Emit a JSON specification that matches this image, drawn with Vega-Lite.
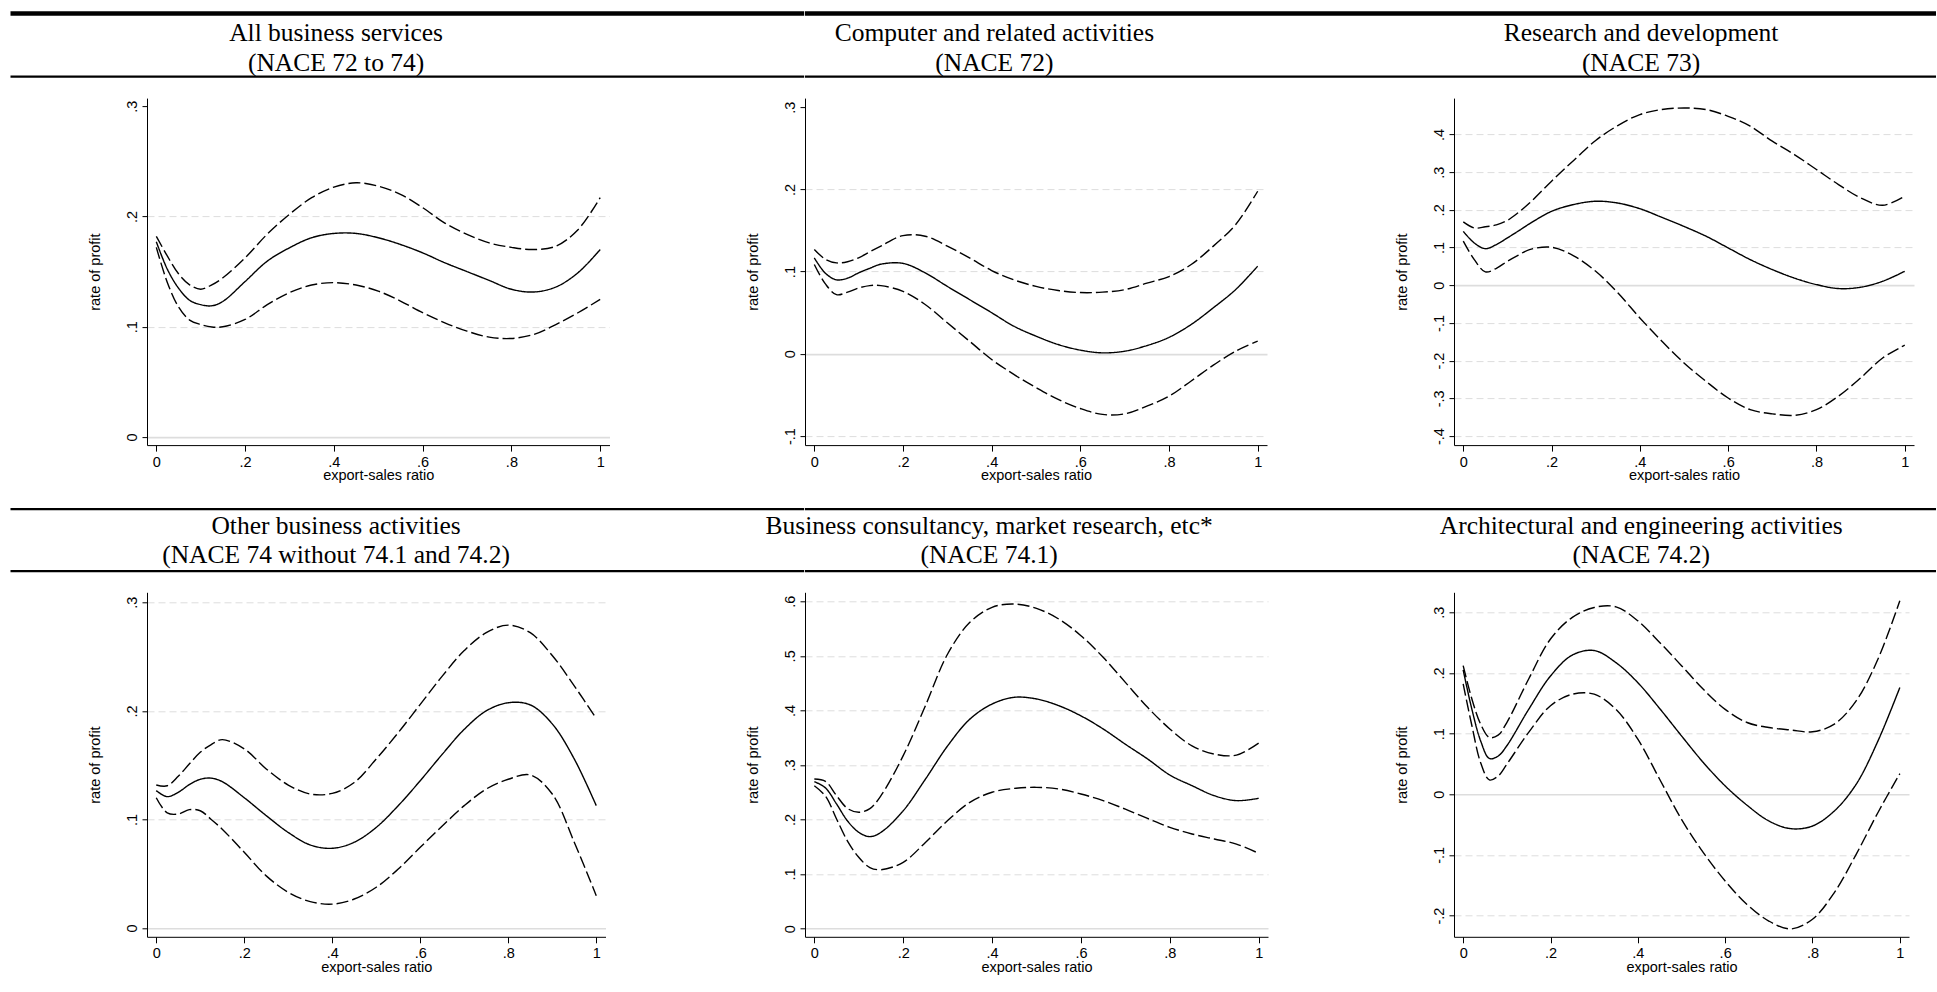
{
  "$schema": "https://vega.github.io/schema/vega-lite/v6.json",
  "background": "white",
  "padding": {"left": 8, "top": 10.5, "right": 0, "bottom": 0},
  "config": {
    "view": {"stroke": null},
    "axis": {"domainColor": "black", "domainWidth": 1, "tickColor": "black", "tickWidth": 1, "tickSize": 5, "labelFont": "Liberation Sans", "labelFontSize": 14.5, "labelColor": "black", "titleFont": "Liberation Sans", "titleFontSize": 14.5, "titleFontWeight": "normal", "titleColor": "black", "grid": false, "labelFlush": false, "labelOverlap": false},
    "axisX": {"tickSize": 6, "labelPadding": 4, "titlePadding": 0},
    "axisY": {"labelAngle": -90, "labelAlign": "center", "labelBaseline": "bottom", "labelPadding": 3, "titlePadding": 22, "grid": true, "gridColor": "#dddddd"}
  },
  "datasets": {
    "titles": [
      {"p": 1, "t": "All business services\n(NACE 72 to 74)"},
      {"p": 2, "t": "Computer and related activities\n(NACE 72)"},
      {"p": 3, "t": "Research and development\n(NACE 73)"},
      {"p": 4, "t": "Other business activities\n(NACE 74 without 74.1 and 74.2)"},
      {"p": 5, "t": "Business consultancy, market research, etc*\n(NACE 74.1)"},
      {"p": 6, "t": "Architectural and engineering activities\n(NACE 74.2)"}
    ],
    "curves": [
      {"p":1,"x":0,"fit":0.177,"lo":0.172,"hi":0.182},
      {"p":1,"x":0.025,"fit":0.152,"lo":0.140,"hi":0.164},
      {"p":1,"x":0.05,"fit":0.135,"lo":0.118,"hi":0.148},
      {"p":1,"x":0.075,"fit":0.124,"lo":0.106,"hi":0.138},
      {"p":1,"x":0.1,"fit":0.120,"lo":0.102,"hi":0.134},
      {"p":1,"x":0.125,"fit":0.119,"lo":0.0998,"hi":0.138},
      {"p":1,"x":0.15,"fit":0.123,"lo":0.100,"hi":0.1444},
      {"p":1,"x":0.2,"fit":0.141,"lo":0.1066,"hi":0.1625},
      {"p":1,"x":0.25,"fit":0.1595,"lo":0.120,"hi":0.184},
      {"p":1,"x":0.3,"fit":0.1716,"lo":0.131,"hi":0.202},
      {"p":1,"x":0.35,"fit":0.1807,"lo":0.1378,"hi":0.217},
      {"p":1,"x":0.4,"fit":0.1846,"lo":0.140,"hi":0.2266},
      {"p":1,"x":0.45,"fit":0.1846,"lo":0.1378,"hi":0.2305},
      {"p":1,"x":0.5,"fit":0.1807,"lo":0.1323,"hi":0.2275},
      {"p":1,"x":0.55,"fit":0.1746,"lo":0.1233,"hi":0.220},
      {"p":1,"x":0.6,"fit":0.167,"lo":0.1127,"hi":0.208},
      {"p":1,"x":0.65,"fit":0.158,"lo":0.1036,"hi":0.194},
      {"p":1,"x":0.7,"fit":0.150,"lo":0.096,"hi":0.1837},
      {"p":1,"x":0.75,"fit":0.142,"lo":0.0906,"hi":0.176},
      {"p":1,"x":0.8,"fit":0.134,"lo":0.0894,"hi":0.172},
      {"p":1,"x":0.85,"fit":0.1315,"lo":0.093,"hi":0.170},
      {"p":1,"x":0.9,"fit":0.136,"lo":0.102,"hi":0.173},
      {"p":1,"x":0.95,"fit":0.149,"lo":0.1127,"hi":0.188},
      {"p":1,"x":1,"fit":0.170,"lo":0.1248,"hi":0.217},

      {"p":2,"x":0,"fit":0.1167,"lo":0.1086,"hi":0.127},
      {"p":2,"x":0.025,"fit":0.098,"lo":0.085,"hi":0.115},
      {"p":2,"x":0.05,"fit":0.090,"lo":0.072,"hi":0.1106},
      {"p":2,"x":0.075,"fit":0.092,"lo":0.075,"hi":0.112},
      {"p":2,"x":0.1,"fit":0.0985,"lo":0.080,"hi":0.1167},
      {"p":2,"x":0.125,"fit":0.104,"lo":0.083,"hi":0.124},
      {"p":2,"x":0.15,"fit":0.109,"lo":0.083,"hi":0.131},
      {"p":2,"x":0.2,"fit":0.110,"lo":0.076,"hi":0.1438},
      {"p":2,"x":0.25,"fit":0.0985,"lo":0.060,"hi":0.143},
      {"p":2,"x":0.3,"fit":0.082,"lo":0.0377,"hi":0.131},
      {"p":2,"x":0.35,"fit":0.066,"lo":0.0154,"hi":0.1167},
      {"p":2,"x":0.4,"fit":0.050,"lo":-0.0069,"hi":0.1013},
      {"p":2,"x":0.45,"fit":0.0336,"lo":-0.025,"hi":0.090},
      {"p":2,"x":0.5,"fit":0.0215,"lo":-0.041,"hi":0.082},
      {"p":2,"x":0.55,"fit":0.0113,"lo":-0.0555,"hi":0.077},
      {"p":2,"x":0.6,"fit":0.0045,"lo":-0.0665,"hi":0.0745},
      {"p":2,"x":0.65,"fit":0.0012,"lo":-0.0737,"hi":0.075},
      {"p":2,"x":0.7,"fit":0.0032,"lo":-0.073,"hi":0.078},
      {"p":2,"x":0.75,"fit":0.010,"lo":-0.0636,"hi":0.086},
      {"p":2,"x":0.8,"fit":0.020,"lo":-0.0515,"hi":0.094},
      {"p":2,"x":0.85,"fit":0.0357,"lo":-0.033,"hi":0.1086},
      {"p":2,"x":0.9,"fit":0.056,"lo":-0.0138,"hi":0.131},
      {"p":2,"x":0.95,"fit":0.078,"lo":0.0032,"hi":0.157},
      {"p":2,"x":1,"fit":0.1066,"lo":0.0154,"hi":0.1977},

      {"p":3,"x":0,"fit":0.143,"lo":0.117,"hi":0.168},
      {"p":3,"x":0.025,"fit":0.112,"lo":0.068,"hi":0.152},
      {"p":3,"x":0.05,"fit":0.097,"lo":0.0354,"hi":0.155},
      {"p":3,"x":0.075,"fit":0.108,"lo":0.045,"hi":0.160},
      {"p":3,"x":0.1,"fit":0.1256,"lo":0.0637,"hi":0.172},
      {"p":3,"x":0.125,"fit":0.144,"lo":0.080,"hi":0.193},
      {"p":3,"x":0.15,"fit":0.163,"lo":0.0946,"hi":0.218},
      {"p":3,"x":0.2,"fit":0.196,"lo":0.1008,"hi":0.276},
      {"p":3,"x":0.25,"fit":0.214,"lo":0.078,"hi":0.331},
      {"p":3,"x":0.3,"fit":0.2228,"lo":0.037,"hi":0.384},
      {"p":3,"x":0.35,"fit":0.218,"lo":-0.020,"hi":0.4235},
      {"p":3,"x":0.4,"fit":0.203,"lo":-0.0866,"hi":0.4527},
      {"p":3,"x":0.45,"fit":0.180,"lo":-0.1485,"hi":0.466},
      {"p":3,"x":0.5,"fit":0.156,"lo":-0.206,"hi":0.470},
      {"p":3,"x":0.55,"fit":0.130,"lo":-0.255,"hi":0.466},
      {"p":3,"x":0.6,"fit":0.099,"lo":-0.299,"hi":0.448},
      {"p":3,"x":0.65,"fit":0.068,"lo":-0.330,"hi":0.4218},
      {"p":3,"x":0.7,"fit":0.0416,"lo":-0.341,"hi":0.382},
      {"p":3,"x":0.75,"fit":0.019,"lo":-0.345,"hi":0.3466},
      {"p":3,"x":0.8,"fit":0.0018,"lo":-0.330,"hi":0.307},
      {"p":3,"x":0.85,"fit":-0.0088,"lo":-0.294,"hi":0.267},
      {"p":3,"x":0.9,"fit":-0.0053,"lo":-0.246,"hi":0.2317},
      {"p":3,"x":0.95,"fit":0.0106,"lo":-0.193,"hi":0.212},
      {"p":3,"x":1,"fit":0.037,"lo":-0.159,"hi":0.236},

      {"p":4,"x":0,"fit":0.1265,"lo":0.120,"hi":0.1317},
      {"p":4,"x":0.025,"fit":0.121,"lo":0.106,"hi":0.131},
      {"p":4,"x":0.05,"fit":0.125,"lo":0.105,"hi":0.1397},
      {"p":4,"x":0.075,"fit":0.132,"lo":0.109,"hi":0.151},
      {"p":4,"x":0.1,"fit":0.137,"lo":0.108,"hi":0.1618},
      {"p":4,"x":0.125,"fit":0.138,"lo":0.100,"hi":0.169},
      {"p":4,"x":0.15,"fit":0.1348,"lo":0.091,"hi":0.1735},
      {"p":4,"x":0.2,"fit":0.120,"lo":0.0697,"hi":0.165},
      {"p":4,"x":0.25,"fit":0.1035,"lo":0.048,"hi":0.1465},
      {"p":4,"x":0.3,"fit":0.088,"lo":0.0329,"hi":0.1317},
      {"p":4,"x":0.35,"fit":0.0765,"lo":0.0243,"hi":0.1234},
      {"p":4,"x":0.4,"fit":0.0734,"lo":0.022,"hi":0.124},
      {"p":4,"x":0.45,"fit":0.079,"lo":0.0267,"hi":0.134},
      {"p":4,"x":0.5,"fit":0.0927,"lo":0.0375,"hi":0.1557},
      {"p":4,"x":0.55,"fit":0.1127,"lo":0.0543,"hi":0.180},
      {"p":4,"x":0.6,"fit":0.1357,"lo":0.0743,"hi":0.206},
      {"p":4,"x":0.65,"fit":0.160,"lo":0.094,"hi":0.232},
      {"p":4,"x":0.7,"fit":0.183,"lo":0.1127,"hi":0.2555},
      {"p":4,"x":0.75,"fit":0.200,"lo":0.128,"hi":0.272},
      {"p":4,"x":0.8,"fit":0.2075,"lo":0.137,"hi":0.279},
      {"p":4,"x":0.85,"fit":0.2055,"lo":0.141,"hi":0.272},
      {"p":4,"x":0.9,"fit":0.188,"lo":0.1234,"hi":0.251},
      {"p":4,"x":0.95,"fit":0.1557,"lo":0.079,"hi":0.223},
      {"p":4,"x":1,"fit":0.1127,"lo":0.0298,"hi":0.193},

      {"p":5,"x":0,"fit":0.2694,"lo":0.262,"hi":0.2743},
      {"p":5,"x":0.025,"fit":0.258,"lo":0.243,"hi":0.270},
      {"p":5,"x":0.05,"fit":0.2285,"lo":0.201,"hi":0.2437},
      {"p":5,"x":0.075,"fit":0.197,"lo":0.160,"hi":0.220},
      {"p":5,"x":0.1,"fit":0.1765,"lo":0.1307,"hi":0.2132},
      {"p":5,"x":0.125,"fit":0.1686,"lo":0.112,"hi":0.220},
      {"p":5,"x":0.15,"fit":0.1765,"lo":0.108,"hi":0.2437},
      {"p":5,"x":0.2,"fit":0.216,"lo":0.1216,"hi":0.317},
      {"p":5,"x":0.25,"fit":0.274,"lo":0.158,"hi":0.4087},
      {"p":5,"x":0.3,"fit":0.335,"lo":0.198,"hi":0.5034},
      {"p":5,"x":0.35,"fit":0.384,"lo":0.2315,"hi":0.5614},
      {"p":5,"x":0.4,"fit":0.4117,"lo":0.250,"hi":0.589},
      {"p":5,"x":0.45,"fit":0.424,"lo":0.257,"hi":0.595},
      {"p":5,"x":0.5,"fit":0.421,"lo":0.259,"hi":0.587},
      {"p":5,"x":0.55,"fit":0.4087,"lo":0.256,"hi":0.5675},
      {"p":5,"x":0.6,"fit":0.390,"lo":0.2468,"hi":0.537},
      {"p":5,"x":0.65,"fit":0.366,"lo":0.2346,"hi":0.4973},
      {"p":5,"x":0.7,"fit":0.338,"lo":0.219,"hi":0.4514},
      {"p":5,"x":0.75,"fit":0.311,"lo":0.202,"hi":0.4056},
      {"p":5,"x":0.8,"fit":0.2816,"lo":0.1857,"hi":0.366},
      {"p":5,"x":0.85,"fit":0.262,"lo":0.1735,"hi":0.335},
      {"p":5,"x":0.9,"fit":0.2437,"lo":0.1643,"hi":0.320},
      {"p":5,"x":0.95,"fit":0.2346,"lo":0.155,"hi":0.318},
      {"p":5,"x":1,"fit":0.2389,"lo":0.138,"hi":0.340},

      {"p":6,"x":0,"fit":0.205,"lo":0.182,"hi":0.212},
      {"p":6,"x":0.02,"fit":0.140,"lo":0.113,"hi":0.157},
      {"p":6,"x":0.04,"fit":0.088,"lo":0.052,"hi":0.1156},
      {"p":6,"x":0.06,"fit":0.059,"lo":0.0237,"hi":0.0936},
      {"p":6,"x":0.08,"fit":0.063,"lo":0.030,"hi":0.0974},
      {"p":6,"x":0.1,"fit":0.080,"lo":0.0495,"hi":0.1183},
      {"p":6,"x":0.15,"fit":0.140,"lo":0.102,"hi":0.190},
      {"p":6,"x":0.2,"fit":0.195,"lo":0.146,"hi":0.256},
      {"p":6,"x":0.25,"fit":0.2295,"lo":0.165,"hi":0.2917},
      {"p":6,"x":0.3,"fit":0.237,"lo":0.165,"hi":0.308},
      {"p":6,"x":0.35,"fit":0.217,"lo":0.140,"hi":0.309},
      {"p":6,"x":0.4,"fit":0.184,"lo":0.0908,"hi":0.286},
      {"p":6,"x":0.45,"fit":0.1414,"lo":0.0248,"hi":0.2504},
      {"p":6,"x":0.5,"fit":0.0963,"lo":-0.0413,"hi":0.212},
      {"p":6,"x":0.55,"fit":0.0523,"lo":-0.0963,"hi":0.173},
      {"p":6,"x":0.6,"fit":0.0138,"lo":-0.143,"hi":0.140},
      {"p":6,"x":0.65,"fit":-0.018,"lo":-0.1816,"hi":0.1183},
      {"p":6,"x":0.7,"fit":-0.044,"lo":-0.209,"hi":0.110},
      {"p":6,"x":0.75,"fit":-0.0567,"lo":-0.222,"hi":0.106},
      {"p":6,"x":0.8,"fit":-0.0523,"lo":-0.206,"hi":0.103},
      {"p":6,"x":0.85,"fit":-0.0275,"lo":-0.162,"hi":0.1156},
      {"p":6,"x":0.9,"fit":0.0165,"lo":-0.099,"hi":0.154},
      {"p":6,"x":0.95,"fit":0.088,"lo":-0.030,"hi":0.223},
      {"p":6,"x":1,"fit":0.176,"lo":0.034,"hi":0.319}
    ]
  },
  "columns": 3,
  "spacing": {"row": 20.6, "column": 0},
  "bounds": "flush",
  "align": "each",
  "concat": [
    {
      "width": 657.2, "height": 63.1,
      "data": {"name": "titles"},
      "transform": [{"filter": "datum.p == 1"}],
      "layer": [
        {"mark": {"type": "rule", "color": "black", "strokeWidth": 4.5}, "encoding": {"x": {"datum": -0.2077, "type": "quantitative", "scale": {"domain": [0, 1], "nice": false, "zero": false}, "axis": null}, "x2": {"datum": 1}, "y": {"datum": 1, "type": "quantitative", "scale": {"domain": [0, 1], "nice": false, "zero": false}, "axis": null}}},
        {"mark": {"type": "rule", "color": "black", "strokeWidth": 2.3}, "encoding": {"x": {"datum": -0.2077, "type": "quantitative", "axis": null}, "x2": {"datum": 1}, "y": {"datum": 0, "type": "quantitative", "axis": null}}},
        {"mark": {"type": "text", "font": "Liberation Serif", "fontSize": 25.5, "lineBreak": "\n", "lineHeight": 29.5, "baseline": "middle", "align": "center", "dy": -12, "color": "black"}, "encoding": {"x": {"datum": 0.2877, "type": "quantitative", "axis": null}, "y": {"datum": 0.5, "type": "quantitative", "axis": null}, "text": {"field": "t", "type": "nominal"}}}
      ]
    },
    {
      "width": 649, "height": 63.1,
      "data": {"name": "titles"},
      "transform": [{"filter": "datum.p == 2"}],
      "layer": [
        {"mark": {"type": "rule", "color": "black", "strokeWidth": 4.5}, "encoding": {"x": {"datum": 0, "type": "quantitative", "scale": {"domain": [0, 1], "nice": false, "zero": false}, "axis": null}, "x2": {"datum": 1}, "y": {"datum": 1, "type": "quantitative", "scale": {"domain": [0, 1], "nice": false, "zero": false}, "axis": null}}},
        {"mark": {"type": "rule", "color": "black", "strokeWidth": 2.3}, "encoding": {"x": {"datum": 0, "type": "quantitative", "axis": null}, "x2": {"datum": 1}, "y": {"datum": 0, "type": "quantitative", "axis": null}}},
        {"mark": {"type": "text", "font": "Liberation Serif", "fontSize": 25.5, "lineBreak": "\n", "lineHeight": 29.5, "baseline": "middle", "align": "center", "dy": -12, "color": "black"}, "encoding": {"x": {"datum": 0.2918, "type": "quantitative", "axis": null}, "y": {"datum": 0.5, "type": "quantitative", "axis": null}, "text": {"field": "t", "type": "nominal"}}}
      ]
    },
    {
      "width": 482, "height": 63.1,
      "data": {"name": "titles"},
      "transform": [{"filter": "datum.p == 3"}],
      "layer": [
        {"mark": {"type": "rule", "color": "black", "strokeWidth": 4.5}, "encoding": {"x": {"datum": 0, "type": "quantitative", "scale": {"domain": [0, 1], "nice": false, "zero": false}, "axis": null}, "x2": {"datum": 1}, "y": {"datum": 1, "type": "quantitative", "scale": {"domain": [0, 1], "nice": false, "zero": false}, "axis": null}}},
        {"mark": {"type": "rule", "color": "black", "strokeWidth": 2.3}, "encoding": {"x": {"datum": 0, "type": "quantitative", "axis": null}, "x2": {"datum": 1}, "y": {"datum": 0, "type": "quantitative", "axis": null}}},
        {"mark": {"type": "text", "font": "Liberation Serif", "fontSize": 25.5, "lineBreak": "\n", "lineHeight": 29.5, "baseline": "middle", "align": "center", "dy": -12, "color": "black"}, "encoding": {"x": {"datum": 0.388, "type": "quantitative", "axis": null}, "y": {"datum": 0.5, "type": "quantitative", "axis": null}, "text": {"field": "t", "type": "nominal"}}}
      ]
    },
    {
      "width": 462.5, "height": 347,
      "data": {"name": "curves"},
      "transform": [{"filter": "datum.p == 1"}, {"fold": ["fit", "hi", "lo"], "as": ["s", "y"]}],
      "mark": {"type": "line", "interpolate": "catmull-rom", "color": "black", "strokeWidth": 1.4},
      "encoding": {
        "x": {"field": "x", "type": "quantitative", "scale": {"domain": [-0.021, 1.021], "nice": false, "zero": false}, "axis": {"values": [0, 0.2, 0.4, 0.6, 0.8, 1], "title": "export-sales ratio", "labelExpr": "(datum.value < 0 ? '-' : '') + replace(format(abs(datum.value), '.1~f'), '0.', '.')"}},
        "y": {"field": "y", "type": "quantitative", "scale": {"domain": [-0.0073, 0.3073], "nice": false, "zero": false}, "axis": {"values": [0, 0.1, 0.2, 0.3], "title": "rate of profit", "labelExpr": "(datum.value < 0 ? '-' : '') + replace(format(abs(datum.value), '.1~f'), '0.', '.')", "gridDash": {"condition": {"test": "datum.value === 0", "value": []}, "value": [7, 4]}, "gridWidth": {"condition": {"test": "datum.value === 0", "value": 1.6}, "value": 1}, "gridOpacity": {"condition": {"test": "datum.value > 0.25", "value": 0}, "value": 1}}},
        "strokeDash": {"field": "s", "type": "nominal", "scale": {"domain": ["fit", "hi", "lo"], "range": [[1, 0], [12, 4], [12, 4]]}, "legend": null}
      }
    },
    {
      "width": 462, "height": 347,
      "data": {"name": "curves"},
      "transform": [{"filter": "datum.p == 2"}, {"fold": ["fit", "hi", "lo"], "as": ["s", "y"]}],
      "mark": {"type": "line", "interpolate": "catmull-rom", "color": "black", "strokeWidth": 1.4},
      "encoding": {
        "x": {"field": "x", "type": "quantitative", "scale": {"domain": [-0.021, 1.021], "nice": false, "zero": false}, "axis": {"values": [0, 0.2, 0.4, 0.6, 0.8, 1], "title": "export-sales ratio", "labelExpr": "(datum.value < 0 ? '-' : '') + replace(format(abs(datum.value), '.1~f'), '0.', '.')"}},
        "y": {"field": "y", "type": "quantitative", "scale": {"domain": [-0.111, 0.311], "nice": false, "zero": false}, "axis": {"values": [-0.1, 0, 0.1, 0.2, 0.3], "title": "rate of profit", "labelExpr": "(datum.value < 0 ? '-' : '') + replace(format(abs(datum.value), '.1~f'), '0.', '.')", "gridDash": {"condition": {"test": "datum.value === 0", "value": []}, "value": [7, 4]}, "gridWidth": {"condition": {"test": "datum.value === 0", "value": 1.6}, "value": 1}, "gridOpacity": {"condition": {"test": "datum.value > 0.25", "value": 0}, "value": 1}}},
        "strokeDash": {"field": "s", "type": "nominal", "scale": {"domain": ["fit", "hi", "lo"], "range": [[1, 0], [12, 4], [12, 4]]}, "legend": null}
      }
    },
    {
      "width": 460, "height": 347,
      "data": {"name": "curves"},
      "transform": [{"filter": "datum.p == 3"}, {"fold": ["fit", "hi", "lo"], "as": ["s", "y"]}],
      "mark": {"type": "line", "interpolate": "catmull-rom", "color": "black", "strokeWidth": 1.4},
      "encoding": {
        "x": {"field": "x", "type": "quantitative", "scale": {"domain": [-0.021, 1.021], "nice": false, "zero": false}, "axis": {"values": [0, 0.2, 0.4, 0.6, 0.8, 1], "title": "export-sales ratio", "labelExpr": "(datum.value < 0 ? '-' : '') + replace(format(abs(datum.value), '.1~f'), '0.', '.')"}},
        "y": {"field": "y", "type": "quantitative", "scale": {"domain": [-0.4239, 0.4963], "nice": false, "zero": false}, "axis": {"values": [-0.4, -0.3, -0.2, -0.1, 0, 0.1, 0.2, 0.3, 0.4], "title": "rate of profit", "labelExpr": "(datum.value < 0 ? '-' : '') + replace(format(abs(datum.value), '.1~f'), '0.', '.')", "gridDash": {"condition": {"test": "datum.value === 0", "value": []}, "value": [7, 4]}, "gridWidth": {"condition": {"test": "datum.value === 0", "value": 1.6}, "value": 1}}},
        "strokeDash": {"field": "s", "type": "nominal", "scale": {"domain": ["fit", "hi", "lo"], "range": [[1, 0], [12, 4], [12, 4]]}, "legend": null}
      }
    },
    {
      "width": 657.2, "height": 105.4,
      "data": {"name": "titles"},
      "transform": [{"filter": "datum.p == 4"}],
      "layer": [
        {"mark": {"type": "rule", "color": "black", "strokeWidth": 2.3}, "encoding": {"x": {"datum": -0.2077, "type": "quantitative", "scale": {"domain": [0, 1], "nice": false, "zero": false}, "axis": null}, "x2": {"datum": 1}, "y": {"datum": 1, "type": "quantitative", "scale": {"domain": [0, 1.7], "nice": false, "zero": false}, "axis": null}}},
        {"mark": {"type": "rule", "color": "black", "strokeWidth": 2.3}, "encoding": {"x": {"datum": -0.2077, "type": "quantitative", "axis": null}, "x2": {"datum": 1}, "y": {"datum": 0, "type": "quantitative", "axis": null}}},
        {"mark": {"type": "text", "font": "Liberation Serif", "fontSize": 25.5, "lineBreak": "\n", "lineHeight": 29.5, "baseline": "middle", "align": "center", "dy": -14.5, "color": "black"}, "encoding": {"x": {"datum": 0.2877, "type": "quantitative", "axis": null}, "y": {"datum": 0.5, "type": "quantitative", "axis": null}, "text": {"field": "t", "type": "nominal"}}}
      ]
    },
    {
      "width": 649, "height": 105.4,
      "data": {"name": "titles"},
      "transform": [{"filter": "datum.p == 5"}],
      "layer": [
        {"mark": {"type": "rule", "color": "black", "strokeWidth": 2.3}, "encoding": {"x": {"datum": 0, "type": "quantitative", "scale": {"domain": [0, 1], "nice": false, "zero": false}, "axis": null}, "x2": {"datum": 1}, "y": {"datum": 1, "type": "quantitative", "scale": {"domain": [0, 1.7], "nice": false, "zero": false}, "axis": null}}},
        {"mark": {"type": "rule", "color": "black", "strokeWidth": 2.3}, "encoding": {"x": {"datum": 0, "type": "quantitative", "axis": null}, "x2": {"datum": 1}, "y": {"datum": 0, "type": "quantitative", "axis": null}}},
        {"mark": {"type": "text", "font": "Liberation Serif", "fontSize": 25.5, "lineBreak": "\n", "lineHeight": 29.5, "baseline": "middle", "align": "center", "dy": -14.5, "color": "black"}, "encoding": {"x": {"datum": 0.2837, "type": "quantitative", "axis": null}, "y": {"datum": 0.5, "type": "quantitative", "axis": null}, "text": {"field": "t", "type": "nominal"}}}
      ]
    },
    {
      "width": 482, "height": 105.4,
      "data": {"name": "titles"},
      "transform": [{"filter": "datum.p == 6"}],
      "layer": [
        {"mark": {"type": "rule", "color": "black", "strokeWidth": 2.3}, "encoding": {"x": {"datum": 0, "type": "quantitative", "scale": {"domain": [0, 1], "nice": false, "zero": false}, "axis": null}, "x2": {"datum": 1}, "y": {"datum": 1, "type": "quantitative", "scale": {"domain": [0, 1.7], "nice": false, "zero": false}, "axis": null}}},
        {"mark": {"type": "rule", "color": "black", "strokeWidth": 2.3}, "encoding": {"x": {"datum": 0, "type": "quantitative", "axis": null}, "x2": {"datum": 1}, "y": {"datum": 0, "type": "quantitative", "axis": null}}},
        {"mark": {"type": "text", "font": "Liberation Serif", "fontSize": 25.5, "lineBreak": "\n", "lineHeight": 29.5, "baseline": "middle", "align": "center", "dy": -14.5, "color": "black"}, "encoding": {"x": {"datum": 0.3884, "type": "quantitative", "axis": null}, "y": {"datum": 0.5, "type": "quantitative", "axis": null}, "text": {"field": "t", "type": "nominal"}}}
      ]
    },
    {
      "width": 458.5, "height": 344.5,
      "data": {"name": "curves"},
      "transform": [{"filter": "datum.p == 4"}, {"fold": ["fit", "hi", "lo"], "as": ["s", "y"]}],
      "mark": {"type": "line", "interpolate": "catmull-rom", "color": "black", "strokeWidth": 1.4},
      "encoding": {
        "x": {"field": "x", "type": "quantitative", "scale": {"domain": [-0.021, 1.021], "nice": false, "zero": false}, "axis": {"values": [0, 0.2, 0.4, 0.6, 0.8, 1], "title": "export-sales ratio", "labelExpr": "(datum.value < 0 ? '-' : '') + replace(format(abs(datum.value), '.1~f'), '0.', '.')"}},
        "y": {"field": "y", "type": "quantitative", "scale": {"domain": [-0.0081, 0.3092], "nice": false, "zero": false}, "axis": {"values": [0, 0.1, 0.2, 0.3], "title": "rate of profit", "labelExpr": "(datum.value < 0 ? '-' : '') + replace(format(abs(datum.value), '.1~f'), '0.', '.')", "gridDash": {"condition": {"test": "datum.value === 0", "value": []}, "value": [7, 4]}, "gridWidth": {"condition": {"test": "datum.value === 0", "value": 1.6}, "value": 1}}},
        "strokeDash": {"field": "s", "type": "nominal", "scale": {"domain": ["fit", "hi", "lo"], "range": [[1, 0], [12, 4], [12, 4]]}, "legend": null}
      }
    },
    {
      "width": 463, "height": 344.5,
      "data": {"name": "curves"},
      "transform": [{"filter": "datum.p == 5"}, {"fold": ["fit", "hi", "lo"], "as": ["s", "y"]}],
      "mark": {"type": "line", "interpolate": "catmull-rom", "color": "black", "strokeWidth": 1.4},
      "encoding": {
        "x": {"field": "x", "type": "quantitative", "scale": {"domain": [-0.021, 1.021], "nice": false, "zero": false}, "axis": {"values": [0, 0.2, 0.4, 0.6, 0.8, 1], "title": "export-sales ratio", "labelExpr": "(datum.value < 0 ? '-' : '') + replace(format(abs(datum.value), '.1~f'), '0.', '.')"}},
        "y": {"field": "y", "type": "quantitative", "scale": {"domain": [-0.015, 0.6165], "nice": false, "zero": false}, "axis": {"values": [0, 0.1, 0.2, 0.3, 0.4, 0.5, 0.6], "title": "rate of profit", "labelExpr": "(datum.value < 0 ? '-' : '') + replace(format(abs(datum.value), '.1~f'), '0.', '.')", "gridDash": {"condition": {"test": "datum.value === 0", "value": []}, "value": [7, 4]}, "gridWidth": {"condition": {"test": "datum.value === 0", "value": 1.6}, "value": 1}}},
        "strokeDash": {"field": "s", "type": "nominal", "scale": {"domain": ["fit", "hi", "lo"], "range": [[1, 0], [12, 4], [12, 4]]}, "legend": null}
      }
    },
    {
      "width": 455, "height": 344.5,
      "data": {"name": "curves"},
      "transform": [{"filter": "datum.p == 6"}, {"fold": ["fit", "hi", "lo"], "as": ["s", "y"]}],
      "mark": {"type": "line", "interpolate": "catmull-rom", "color": "black", "strokeWidth": 1.4},
      "encoding": {
        "x": {"field": "x", "type": "quantitative", "scale": {"domain": [-0.021, 1.021], "nice": false, "zero": false}, "axis": {"values": [0, 0.2, 0.4, 0.6, 0.8, 1], "title": "export-sales ratio", "labelExpr": "(datum.value < 0 ? '-' : '') + replace(format(abs(datum.value), '.1~f'), '0.', '.')"}},
        "y": {"field": "y", "type": "quantitative", "scale": {"domain": [-0.235, 0.333], "nice": false, "zero": false}, "axis": {"values": [-0.2, -0.1, 0, 0.1, 0.2, 0.3], "title": "rate of profit", "labelExpr": "(datum.value < 0 ? '-' : '') + replace(format(abs(datum.value), '.1~f'), '0.', '.')", "gridDash": {"condition": {"test": "datum.value === 0", "value": []}, "value": [7, 4]}, "gridWidth": {"condition": {"test": "datum.value === 0", "value": 1.6}, "value": 1}}},
        "strokeDash": {"field": "s", "type": "nominal", "scale": {"domain": ["fit", "hi", "lo"], "range": [[1, 0], [12, 4], [12, 4]]}, "legend": null}
      }
    }
  ]
}
